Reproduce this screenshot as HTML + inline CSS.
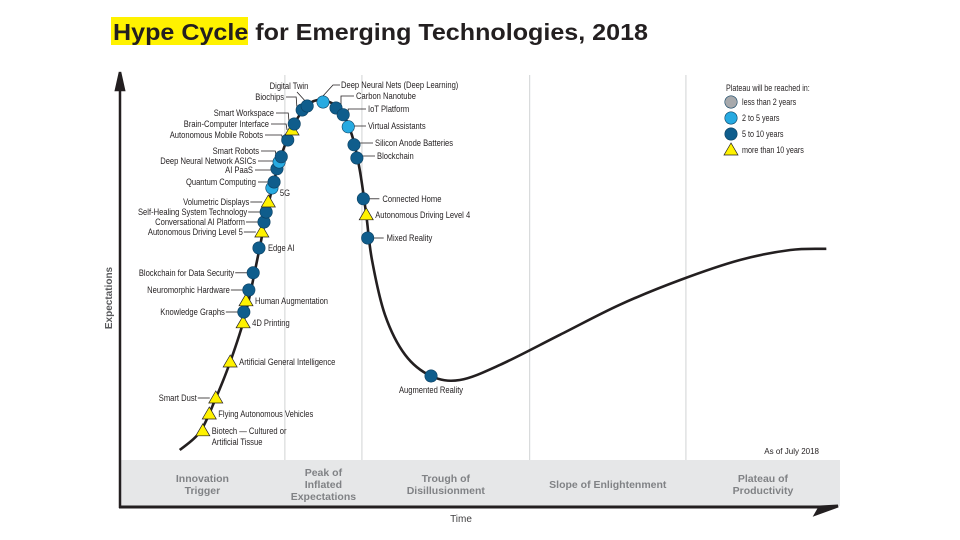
<!DOCTYPE html>
<html><head><meta charset="utf-8"><style>
html,body{margin:0;padding:0;background:#fff;}
svg{display:block;font-family:"Liberation Sans",sans-serif;}
</style></head><body>
<svg id="chart" width="960" height="540" viewBox="0 0 960 540" xmlns="http://www.w3.org/2000/svg">
<rect x="111" y="17" width="137" height="28" fill="#fff200"/>
<text x="113" y="40" font-weight="bold" font-size="23" textLength="535" lengthAdjust="spacingAndGlyphs" fill="#231f20">Hype Cycle for Emerging Technologies, 2018</text>
<g id="frame"></g>
<g id="curve"></g>
<g id="marks"></g>
<g id="legend"></g>
</svg>
<script>
// Data (time 0-100, expectations 0-100)
const curveT = [8.3,11.1,13.2,15.3,17.4,19.2,20.6,22.2,24.0,26.1,28.2,30.6,32.2,33.3,34.2,35.0,36.8,39.6,43.2,47.2,52.8,61.1,69.4,77.8,86.1,93.1,98.1];
const curveE = [2.5,7.0,15.0,24.5,36.3,51.3,63.8,75.0,83.3,88.8,90.0,87.5,81.3,72.5,61.3,50.0,36.3,26.3,21.0,20.0,23.8,31.3,38.8,45.0,50.0,52.5,52.8];
const techNames = ["Biotech — Cultured or|Artificial Tissue","Flying Autonomous Vehicles","Smart Dust","Artificial General Intelligence","4D Printing","Knowledge Graphs","Human Augmentation","Neuromorphic Hardware","Blockchain for Data Security","Edge AI","Autonomous Driving Level 5","Conversational AI Platform","Self-Healing System Technology","Volumetric Displays","5G","Quantum Computing","AI PaaS","Deep Neural Network ASICs","Smart Robots","Autonomous Mobile Robots","Brain-Computer Interface","Smart Workspace","Biochips","Digital Twin","Deep Neural Nets (Deep Learning)","Carbon Nanotube","IoT Platform","Virtual Assistants","Silicon Anode Batteries","Blockchain","Connected Home","Autonomous Driving Level 4","Mixed Reality","Augmented Reality"];
const techT = [11.5,12.4,13.3,15.3,17.1,17.2,17.5,17.9,18.5,19.3,19.7,20.0,20.3,20.6,21.1,21.4,21.8,22.1,22.4,23.3,23.9,24.2,25.3,26.0,28.2,30.0,31.0,31.7,32.5,32.9,33.8,34.2,34.4,43.2];
const techE = [7.3,11.5,15.5,24.5,34.3,37.0,39.8,42.5,46.8,53.0,57.0,59.5,62.0,64.5,68.0,69.5,72.8,74.5,75.8,80.0,82.5,84.0,87.5,88.5,89.5,88.0,86.3,83.3,78.8,75.5,65.3,61.3,55.5,21.0];
const techCat = ["t","t","t","t","t","d","t","d","d","d","t","d","d","t","l","d","d","l","d","d","t","d","d","d","l","d","d","l","d","d","d","t","d","d"];
const phaseNames = ["Innovation|Trigger","Peak of|Inflated|Expectations","Trough of|Disillusionment","Slope of Enlightenment","Plateau of|Productivity"];
const phaseBounds = [0,22.9,33.6,56.9,78.6,100];
const legendLabels = ["less than 2 years","2 to 5 years","5 to 10 years","more than 10 years"];
const legendCats = ["g","l","d","t"];

const X0=120, XS=7.2, Y0=460, YS=4;
const xS = t => X0 + t*XS;
const yS = e => Y0 - e*YS;
const NS="http://www.w3.org/2000/svg";
function mk(tag, attrs, parent){const el=document.createElementNS(NS,tag);for(const k in attrs)el.setAttribute(k,attrs[k]);parent.appendChild(el);return el;}
const colors={g:"#a7a9ac",l:"#27aae1",d:"#0f5d8c",t:"#fff200"};

// condensed text helper
function ctext(parent,str,x,y,anchor,size){
  const t=mk('text',{x:0,y:0,transform:`translate(${x},${y}) scale(0.8,1)`,"text-anchor":anchor||"start","font-size":size||9.5,fill:"#231f20"},parent);
  str.split('|').forEach((l,j)=>{const ts=mk('tspan',{x:0,dy:j?11:0},t);ts.textContent=l;});
  return t;
}

// frame
const fr=document.getElementById('frame');
let band=mk('rect',{x:121,y:460,width:719,height:46,fill:"#e6e7e8"},fr);


for(let i=1;i<phaseBounds.length-1;i++){
  let ln=mk('line',{x1:xS(phaseBounds[i]),x2:xS(phaseBounds[i]),y1:75,y2:460,stroke:"#d1d3d4","stroke-width":1},fr);
  
  
}
phaseNames.forEach((n,i)=>{
  const cx=(xS(phaseBounds[i])+xS(phaseBounds[i+1]))/2;
  const lines=n.split('|');
  const startY=484-(lines.length-1)*6+4;
  const tx=mk('text',{x:cx,y:startY,"text-anchor":"middle","font-size":10.5,fill:"#808285","font-weight":"bold"},fr);
  
  
  lines.forEach((l,j)=>{const ts=mk('tspan',{x:cx,dy:j?12:0},tx);ts.textContent=l;});
});
let ya=mk('path',{d:"M120 508 L120 72 L116 90 L124 90 L120 72",stroke:"#231f20","stroke-width":2.5,fill:"#231f20"},fr);


let xa=mk('path',{d:"M119 507 L820 507 L838 506 L816 514 L820 507",stroke:"#231f20","stroke-width":3,fill:"#231f20"},fr);


let yt=mk('text',{x:0,y:0,transform:"translate(112,298) rotate(-90)","text-anchor":"middle","font-size":10,"font-weight":"bold",fill:"#58595b"},fr);
yt.textContent="Expectations";


let xt=mk('text',{x:461,y:522,"text-anchor":"middle","font-size":10,fill:"#414042"},fr);
xt.textContent="Time";


let asof=mk('text',{x:819,y:454,"text-anchor":"end","font-size":8,fill:"#231f20"},fr);
asof.textContent="As of July 2018";



// curve (Catmull-Rom)
const pts=curveT.map((t,i)=>[xS(t),yS(curveE[i])]);
let d=`M${pts[0][0]},${pts[0][1]}`;
for(let i=0;i<pts.length-1;i++){
  const p0=pts[Math.max(0,i-1)],p1=pts[i],p2=pts[i+1],p3=pts[Math.min(pts.length-1,i+2)];
  d+=` C${p1[0]+(p2[0]-p0[0])/6},${p1[1]+(p2[1]-p0[1])/6} ${p2[0]-(p3[0]-p1[0])/6},${p2[1]-(p3[1]-p1[1])/6} ${p2[0]},${p2[1]}`;
}
const cv=mk('path',{d:d,stroke:"#231f20","stroke-width":2.6,fill:"none"},document.getElementById('curve'));



function marker(cat,x,y,parent){
  if(cat==='t') return mk('polygon',{points:`${x},${y-7} ${x-7},${y+5} ${x+7},${y+5}`,fill:colors.t,stroke:"#231f20","stroke-width":0.7},parent);
  return mk('circle',{cx:x,cy:y,r:6.2,fill:colors[cat],stroke:"#0b3f60","stroke-width":0.6},parent);
}
// label placement overrides (absolute text anchor positions, layout only)
const labelAt={
  "Digital Twin":[289,89,"middle"],"Biochips":[284,100,"end"],"Smart Workspace":[274,116,"end"],
  "Brain-Computer Interface":[269,127,"end"],"Autonomous Mobile Robots":[263,138,"end"],
  "Smart Robots":[259,154,"end"],"Deep Neural Network ASICs":[256,164,"end"],"AI PaaS":[253,173,"end"],
  "Quantum Computing":[256,185,"end"],"Carbon Nanotube":[356,99,"start"],"IoT Platform":[368,112,"start"],
  "Virtual Assistants":[368,129,"start"],"Silicon Anode Batteries":[375,146,"start"],"Blockchain":[377,159,"start"],
  "Deep Neural Nets (Deep Learning)":[341,88,"start"]
};
const mg=document.getElementById('marks');
const rightSide=new Set(["Human Augmentation","4D Printing","Artificial General Intelligence","Flying Autonomous Vehicles","Biotech — Cultured or|Artificial Tissue","Edge AI","5G","Autonomous Driving Level 4"]);
techNames.forEach((n,i)=>{
  const x=xS(techT[i]), y=yS(techE[i]);
  const g=mk('g',{},mg);
  
  
  if(n==="Augmented Reality"){
    ctext(g,n,x,y+17,"middle");
  } else if(labelAt[n]){
    const [lx,ly,an]=labelAt[n];
    if(n==="Digital Twin"){mk('line',{x1:x-2,y1:y-5,x2:lx+8,y2:ly+3,stroke:"#231f20","stroke-width":0.8},g);}
    else if(n==="Deep Neural Nets (Deep Learning)"){mk('polyline',{points:`${x-1},${y-5} ${lx-8},${ly-3} ${lx-1},${ly-3}`,stroke:"#231f20","stroke-width":0.8,fill:"none"},g);}
    else if(an==="end"){mk('polyline',{points:`${lx+2},${ly-3} ${x-6},${ly-3} ${x-5},${y}`,stroke:"#231f20","stroke-width":0.8,fill:"none"},g);}
    else {mk('polyline',{points:`${x+5},${y} ${x+5},${ly-3} ${lx-2},${ly-3}`,stroke:"#231f20","stroke-width":0.8,fill:"none"},g);}
    ctext(g,n,lx,ly,an);
  } else if(techT[i]>27.5){
    if(n!=="Autonomous Driving Level 4") mk('line',{x1:x+6,y1:y,x2:x+16,y2:y,stroke:"#231f20","stroke-width":0.8},g);
    ctext(g,n,n==="Autonomous Driving Level 4"?x+9:x+19,y+3,"start");
  } else if(rightSide.has(n)){
    if(n==="5G") ctext(g,n,x+8,y+8,"start");
    else ctext(g,n,x+9,y+3,"start");
  } else {
    mk('line',{x1:x-6,y1:y,x2:x-18,y2:y,stroke:"#231f20","stroke-width":0.8},g);
    ctext(g,n,x-19,y+3,"end");
  }
  marker(techCat[i],x,y,g);
});

// legend
const lg=document.getElementById('legend');
let lt=ctext(lg,"Plateau will be reached in:",726,91,"start",9);


legendLabels.forEach((l,i)=>{
  const g=mk('g',{},lg);
  
  
  const y=102+i*16;
  marker(legendCats[i],731,y,g);
  ctext(g,l,742,y+3,"start",9);
});
</script>
</body></html>
